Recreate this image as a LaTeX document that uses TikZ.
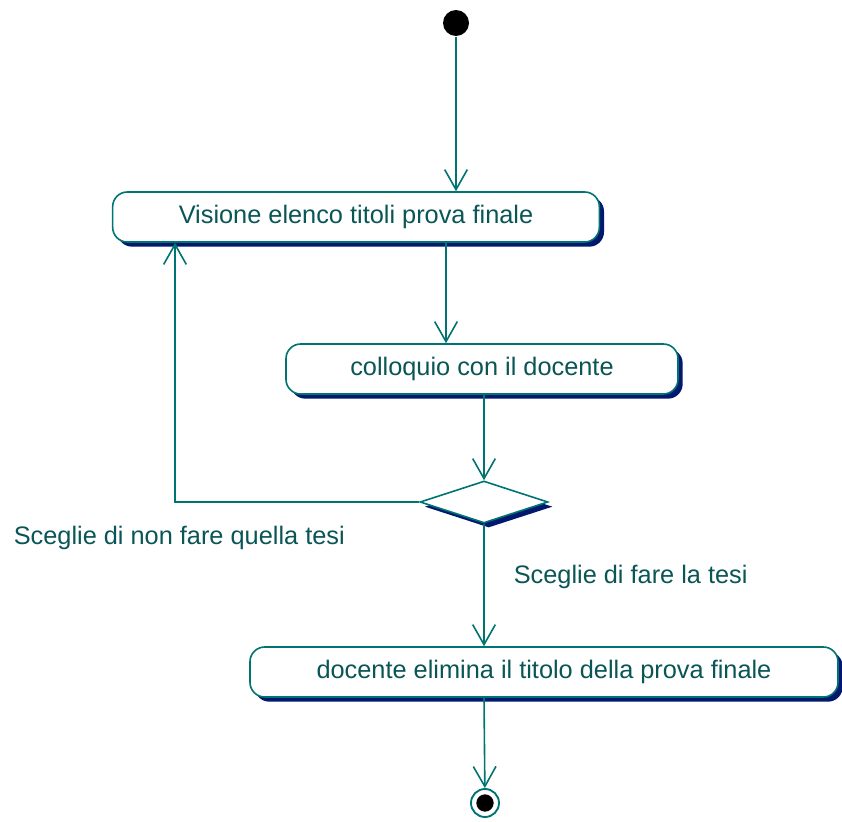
\documentclass[tikz,border=0pt]{standalone}
\usepackage{fontspec}
\setmainfont{Liberation Sans}
\usetikzlibrary{arrows.meta,shapes.geometric,shadows}

\definecolor{tratto}{RGB}{0,115,115}
\definecolor{testo}{RGB}{10,85,85}
\definecolor{ombra}{RGB}{0,25,110}

\tikzset{every picture/.style={line width=1.2pt}}
\tikzset{
  attivita/.style={draw=tratto, fill=white, rounded corners=11pt, minimum height=37.5pt,
    inner sep=0.75pt, text=testo, font=\fontsize{19}{22}\selectfont,
    drop shadow={shadow xshift=3.5pt, shadow yshift=-3.5pt, opacity=1, fill=ombra}},
  freccia/.style={draw=tratto, -{Straight Barb[length=15pt,width=17pt,line width=1.2pt]}},
  etichetta/.style={inner sep=0.75pt, text=testo, font=\fontsize{19}{22}\selectfont},
}

\begin{document}
\begin{tikzpicture}[x=0.75pt,y=0.75pt,yscale=-1,xscale=1]
\useasboundingbox (0,0) rectangle (842,821);

%Initial state
\node (inizio) at (456,23) [circle, fill=black, minimum size=19.5pt, inner sep=0pt] {};
%Rounded Rect
\node (visione) at (356,217) [attivita, minimum width=365pt] {Visione elenco titoli prova finale};
%Rounded Rect
\node (colloquio) at (482,369) [attivita, minimum width=294pt] {colloquio con il docente};
%Decision
\node (scelta) at (484,502) [diamond, draw=tratto, fill=white, minimum width=96pt, minimum height=31.5pt,
  inner sep=0pt, drop shadow={shadow xshift=3.5pt, shadow yshift=-3.5pt, opacity=1, fill=ombra}] {};
%Rounded Rect
\node (elimina) at (544,672) [attivita, minimum width=441pt] {docente elimina il titolo della prova finale};
%Final state
\node (fine) at (485,803) [circle, draw=tratto, line width=1.4pt, minimum size=21pt, inner sep=0pt,
  path picture={\fill (path picture bounding box.center) circle (6.5pt);}] {};
\coordinate (ritorno) at (175,502);

%Straight Lines
\draw [freccia] (inizio) -- (inizio |- visione.north);
\draw [freccia] (446,0 |- visione.south) -- (446,0 |- colloquio.north);
\draw [freccia] (484,0 |- colloquio.south) -- (scelta.north);
\draw [freccia] (scelta.west) -- (ritorno) -- (ritorno |- visione.south);
\draw [freccia] (scelta.south) -- (scelta.south |- elimina.north);
\draw [freccia] (scelta.south |- elimina.south) -- (fine);

% Text Node
\node (nonfare) at (12,538) [etichetta, anchor=west] {Sceglie di non fare quella tesi};
% Text Node
\node (fare) at (512,577) [etichetta, anchor=west] {Sceglie di fare la tesi};

\end{tikzpicture}
\end{document}
